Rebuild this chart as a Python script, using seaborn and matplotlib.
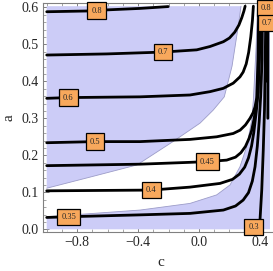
import numpy as np
import pandas as pd
import matplotlib
matplotlib.use("Agg")
import matplotlib.pyplot as plt
from matplotlib.ticker import FixedLocator, MultipleLocator
import seaborn as sns

# contour lines (c, a)
c_08 = [-1.0, -0.737, -0.606, -0.387, -0.202]
a_08 = [0.588, 0.590, 0.593, 0.597, 0.602]

c_07 = [-1.0, -0.606, -0.236, -0.015, 0.072, 0.160, 0.200, 0.235, 0.262, 0.281, 0.295, 0.303]
a_07 = [0.471, 0.474, 0.479, 0.485, 0.494, 0.507, 0.517, 0.533, 0.552, 0.572, 0.590, 0.603]

c_06 = [-1.0, -0.860, -0.387, -0.059, 0.072, 0.160, 0.225, 0.269, 0.290, 0.310, 0.326, 0.340, 0.351, 0.357]
a_06 = [0.354, 0.356, 0.358, 0.363, 0.372, 0.381, 0.395, 0.412, 0.425, 0.447, 0.478, 0.520, 0.565, 0.603]

c_05 = [-1.0, -0.683, -0.387, -0.058, 0.116, 0.225, 0.270, 0.305, 0.335, 0.355, 0.368, 0.379, 0.387, 0.392]
a_05 = [0.234, 0.237, 0.237, 0.243, 0.250, 0.259, 0.268, 0.282, 0.300, 0.315, 0.331, 0.355, 0.458, 0.603]

c_045 = [-1.0, -0.387, -0.059, 0.056, 0.182, 0.240, 0.275, 0.305, 0.328, 0.345, 0.360, 0.375, 0.386, 0.393, 0.398]
a_045 = [0.172, 0.176, 0.181, 0.183, 0.187, 0.195, 0.207, 0.224, 0.245, 0.266, 0.295, 0.330, 0.370, 0.458, 0.603]

c_04 = [-1.0, -0.315, -0.059, 0.138, 0.220, 0.265, 0.300, 0.325, 0.345, 0.360, 0.376, 0.388, 0.397, 0.404]
a_04 = [0.104, 0.106, 0.114, 0.124, 0.135, 0.149, 0.168, 0.193, 0.225, 0.262, 0.318, 0.370, 0.458, 0.603]

c_035 = [-1.0, -0.856, -0.387, -0.059, 0.160, 0.240, 0.290, 0.325, 0.350, 0.368, 0.383, 0.395, 0.405, 0.414, 0.417]
a_035 = [0.032, 0.034, 0.039, 0.043, 0.052, 0.063, 0.079, 0.099, 0.130, 0.169, 0.225, 0.290, 0.360, 0.458, 0.603]

c_03 = [0.397, 0.412, 0.422, 0.430, 0.435, 0.439]
a_03 = [0.0, 0.106, 0.214, 0.322, 0.458, 0.603]

# branch right of the pole
c_08r = [0.446, 0.447]
a_08r = [0.40, 0.603]
c_07r = [0.452, 0.453]
a_07r = [0.30, 0.603]

# shaded regions (boundaries)
c_upper = [-1.0, -0.716, -0.407, -0.171, 0.007, 0.093, 0.166, 0.217, 0.256, 0.276]
a_upper = [0.111, 0.141, 0.174, 0.237, 0.287, 0.322, 0.358, 0.441, 0.544, 0.603]

c_lower = [-1.0, -0.387, -0.059, 0.116, 0.204, 0.269, 0.313, 0.346, 0.357, 0.374, 0.384]
a_lower = [0.034, 0.052, 0.070, 0.093, 0.120, 0.169, 0.223, 0.295, 0.349, 0.485, 0.603]

c_min, c_max = -1.0, 0.466
a_min, a_max = 0.0, 0.603

# contour labels
lab_text = ["0.8", "0.7", "0.6", "0.5", "0.45", "0.4", "0.35", "0.3", "0.8", "0.7"]
lab_c = [-0.672, -0.236, -0.860, -0.683, 0.056, -0.315, -0.856, 0.361, 0.440, 0.447]
lab_a = [0.591, 0.479, 0.356, 0.237, 0.183, 0.106, 0.034, 0.007, 0.598, 0.557]

lines = [("0.8", c_08, a_08), ("0.7", c_07, a_07), ("0.6", c_06, a_06),
         ("0.5", c_05, a_05), ("0.45", c_045, a_045), ("0.4", c_04, a_04),
         ("0.35", c_035, a_035), ("0.3", c_03, a_03),
         ("0.8r", c_08r, a_08r), ("0.7r", c_07r, a_07r)]
df = pd.concat([pd.DataFrame({"c": c, "a": a, "level": k}) for k, c, a in lines],
               ignore_index=True)

sns.set_style("ticks")
plt.rcParams["font.family"] = ["Liberation Serif", "DejaVu Serif"]

fill_col = "#ccccf7"
edge_col = "#9c9cc8"

fig = plt.figure(figsize=(2.73, 2.71), dpi=100)
ax = fig.add_axes([0.1557, 0.145, 0.870, 0.8428])

# upper-left region
ax.fill(c_upper + [c_min], a_upper + [a_max], color=fill_col, lw=0, zorder=1)
# lower-right region
ax.fill(c_lower + [c_max, c_max, c_min], a_lower + [a_max, a_min, a_min],
        color=fill_col, lw=0, zorder=1)
ax.plot(c_upper, a_upper, color=edge_col, lw=0.6, zorder=2)
ax.plot(c_lower, a_lower, color=edge_col, lw=0.6, zorder=2)

sns.lineplot(data=df, x="c", y="a", units="level", estimator=None, sort=False,
             color="black", lw=2.0, ax=ax, zorder=3, legend=False)

for t, c, a in zip(lab_text, lab_c, lab_a):
    ax.text(c, a, t, fontsize=6, ha="center", va="center", zorder=5,
            bbox=dict(boxstyle="square,pad=0.5", fc="#f8a85c", ec="black", lw=0.9))

ax.set_xlim(-1.0276, 0.532)
ax.set_ylim(-0.0065, 0.6108)

ax.xaxis.set_major_locator(FixedLocator([-0.8, -0.4, 0.0, 0.4]))
ax.xaxis.set_minor_locator(MultipleLocator(0.1))
ax.yaxis.set_major_locator(FixedLocator([0.0, 0.1, 0.2, 0.3, 0.4, 0.5, 0.6]))
ax.yaxis.set_minor_locator(MultipleLocator(0.02))
ax.set_xticklabels(["\u22120.8", "\u22120.4", "0.0", "0.4"])
ax.set_yticklabels(["0.0", "0.1", "0.2", "0.3", "0.4", "0.5", "0.6"])

ax.tick_params(which="both", direction="in", top=True, right=False,
               color="#808080", labelsize=10, pad=3)
ax.tick_params(which="major", length=4, width=0.7)
ax.tick_params(which="minor", length=2, width=0.5)
for s in ax.spines.values():
    s.set_color("#808080")
    s.set_linewidth(0.8)

ax.set_xlabel("c", fontsize=11, labelpad=5)
ax.set_ylabel("a", fontsize=11, labelpad=4)

fig.savefig("out.png", dpi=100)
